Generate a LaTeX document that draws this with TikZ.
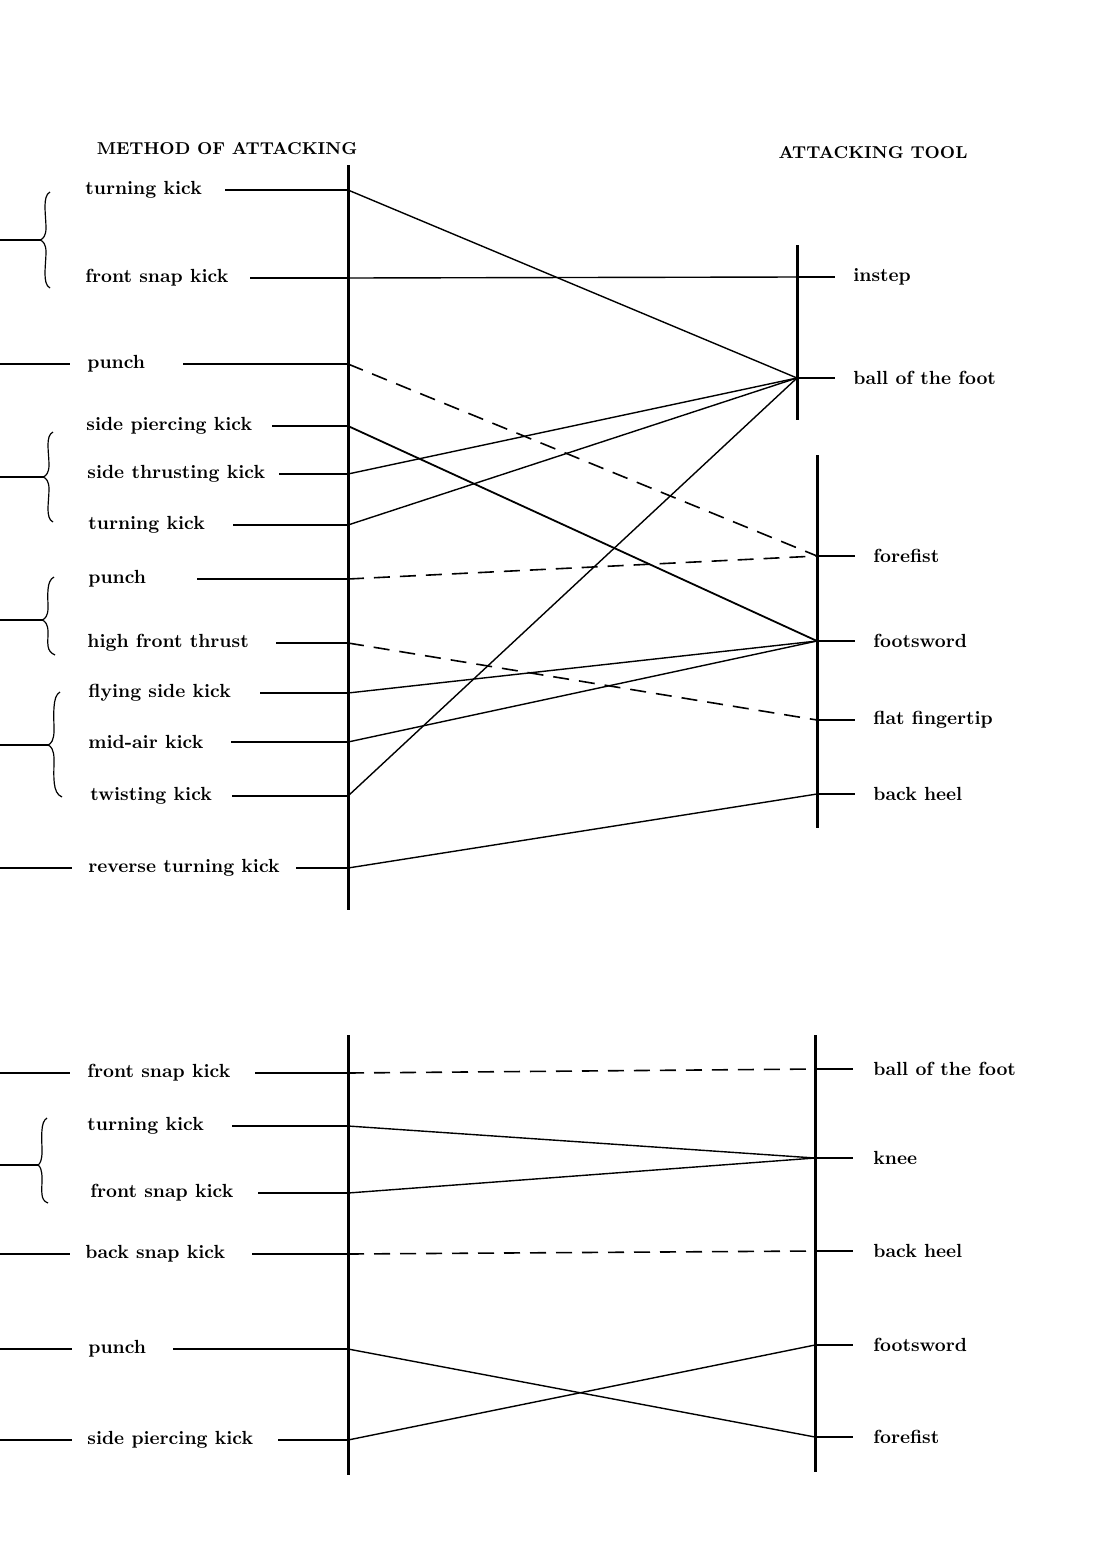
\documentclass[tikz,border=0pt]{standalone}
\begin{document}
\begin{tikzpicture}[x=0.5pt,y=-0.5pt,
  axis/.style={line width=1.5pt},
  conn/.style={line width=0.7pt},
  dconn/.style={line width=0.8pt,dash pattern=on 8pt off 5pt},
  stub/.style={line width=0.7pt},
  lab/.style={anchor=west,inner sep=0pt,font=\fontsize{9.5}{11}\selectfont\bfseries},
  head/.style={inner sep=0pt,font=\fontsize{8.6}{10}\selectfont\bfseries},
  brace/.style={line width=0.6pt}]
\useasboundingbox (0,0) rectangle (1119,1548);

% headers
\node[head] (hm) at (227,149) {METHOD OF ATTACKING};
\node[head] (ht) at (873,153) {ATTACKING TOOL};

% axes
\coordinate (A1t) at (348,165); \coordinate (A1b) at (348,910);
\coordinate (B1t) at (797,245); \coordinate (B1b) at (797,420);
\coordinate (B2t) at (817,455); \coordinate (B2b) at (817,828);
\coordinate (A2t) at (348,1035); \coordinate (A2b) at (348,1475);
\coordinate (B3t) at (815,1035); \coordinate (B3b) at (815,1472);
\draw[axis] (A1t) -- (A1b);
\draw[axis] (B1t) -- (B1b);
\draw[axis] (B2t) -- (B2b);
\draw[axis] (A2t) -- (A2b);
\draw[axis] (B3t) -- (B3b);

% ---------- upper left labels ----------
\node[lab] (u1) at (85,190) {turning kick};
\node[lab] (u2) at (85,278) {front snap kick};
\node[lab] (u3) at (87,364) {punch};
\node[lab] (u4) at (86,426) {side piercing kick};
\node[lab] (u5) at (87,474) {side thrusting kick};
\node[lab] (u6) at (88,525) {turning kick};
\node[lab] (u7) at (88,579) {punch};
\node[lab] (u8) at (87,643) {high front thrust};
\node[lab] (u9) at (88,693) {flying side kick};
\node[lab] (u10) at (88,742) {mid-air kick};
\node[lab] (u11) at (90,796) {twisting kick};
\node[lab] (u12) at (88,868) {reverse turning kick};

\coordinate (p1) at (348,190);  \coordinate (s1) at (225,190);
\coordinate (p2) at (348,278);  \coordinate (s2) at (250,278);
\coordinate (p3) at (348,364);  \coordinate (s3) at (183,364);
\coordinate (p4) at (348,426);  \coordinate (s4) at (272,426);
\coordinate (p5) at (348,474);  \coordinate (s5) at (279,474);
\coordinate (p6) at (348,525);  \coordinate (s6) at (233,525);
\coordinate (p7) at (348,579);  \coordinate (s7) at (197,579);
\coordinate (p8) at (348,643);  \coordinate (s8) at (276,643);
\coordinate (p9) at (348,693);  \coordinate (s9) at (260,693);
\coordinate (p10) at (348,742); \coordinate (s10) at (231,742);
\coordinate (p11) at (348,796); \coordinate (s11) at (232,796);
\coordinate (p12) at (348,868); \coordinate (s12) at (296,868);
\foreach \i in {1,...,12} {\draw[stub] (s\i) -- (p\i);}

% left feeders and braces (upper)
\coordinate (f3a) at (0,364);  \coordinate (f3b) at (70,364);
\coordinate (f12a) at (0,868); \coordinate (f12b) at (72,868);
\draw[stub] (f3a) -- (f3b);
\draw[stub] (f12a) -- (f12b);

\coordinate (br1) at (40,240); \coordinate (br1f) at (0,240);
\draw[brace] (br1f) -- (br1);
\draw[brace] (50,192) .. controls (42,196) and (46,215) .. (46,228) .. controls (46,236) and (43,239) .. (br1) .. controls (43,241) and (46,244) .. (46,252) .. controls (46,265) and (42,284) .. (50,288);

\coordinate (br2) at (43,477); \coordinate (br2f) at (0,477);
\draw[brace] (br2f) -- (br2);
\draw[brace] (53,432) .. controls (45,436) and (49,452) .. (49,465) .. controls (49,473) and (46,476) .. (br2) .. controls (46,478) and (49,481) .. (49,489) .. controls (49,502) and (45,518) .. (53,522);

\coordinate (br3) at (42,620); \coordinate (br3f) at (0,620);
\draw[brace] (br3f) -- (br3);
\draw[brace] (54,577) .. controls (46,581) and (48,596) .. (48,608) .. controls (48,616) and (45,619) .. (br3) .. controls (45,621) and (48,624) .. (48,632) .. controls (48,644) and (46,651) .. (55,655);

\coordinate (br4) at (48,745); \coordinate (br4f) at (0,745);
\draw[brace] (br4f) -- (br4);
\draw[brace] (60,692) .. controls (52,696) and (54,716) .. (54,731) .. controls (54,740) and (51,744) .. (br4) .. controls (51,746) and (54,750) .. (54,759) .. controls (54,776) and (52,793) .. (62,797);

% ---------- upper right ----------
\node[lab] (r1) at (853,277) {instep};
\node[lab] (r2) at (853,378) {ball of the foot};
\node[lab] (r3) at (873,556) {forefist};
\node[lab] (r4) at (873,641) {footsword};
\node[lab] (r5) at (873,720) {flat fingertip};
\node[lab] (r6) at (873,794) {back heel};

\coordinate (q1) at (797,277); \coordinate (t1) at (835,277);
\coordinate (q2) at (797,378); \coordinate (t2) at (835,378);
\coordinate (q3) at (817,556); \coordinate (t3) at (855,556);
\coordinate (q4) at (817,641); \coordinate (t4) at (855,641);
\coordinate (q5) at (817,720); \coordinate (t5) at (855,720);
\coordinate (q6) at (817,794); \coordinate (t6) at (855,794);
\foreach \i in {1,...,6} {\draw[stub] (q\i) -- (t\i);}

% upper connectors
\draw[conn] (p1) -- (q2);
\draw[conn] (p2) -- (q1);
\draw[dconn] (p3) -- (q3);
\draw[conn,line width=0.9pt] (p4) -- (q4);
\draw[conn] (p5) -- (q2);
\draw[conn] (p6) -- (q2);
\draw[dconn] (p7) -- (q3);
\draw[dconn] (p8) -- (q5);
\draw[conn] (p9) -- (q4);
\draw[conn] (p10) -- (q4);
\draw[conn] (p11) -- (q2);
\draw[conn] (p12) -- (q6);

% ---------- lower left ----------
\node[lab] (v1) at (87,1073) {front snap kick};
\node[lab] (v2) at (87,1126) {turning kick};
\node[lab] (v3) at (90,1193) {front snap kick};
\node[lab] (v4) at (85,1254) {back snap kick};
\node[lab] (v5) at (88,1349) {punch};
\node[lab] (v6) at (87,1440) {side piercing kick};

\coordinate (m1) at (348,1073); \coordinate (n1) at (255,1073);
\coordinate (m2) at (348,1126); \coordinate (n2) at (232,1126);
\coordinate (m3) at (348,1193); \coordinate (n3) at (258,1193);
\coordinate (m4) at (348,1254); \coordinate (n4) at (252,1254);
\coordinate (m5) at (348,1349); \coordinate (n5) at (173,1349);
\coordinate (m6) at (348,1440); \coordinate (n6) at (278,1440);
\foreach \i in {1,...,6} {\draw[stub] (n\i) -- (m\i);}

\coordinate (g1a) at (0,1073); \coordinate (g1b) at (70,1073);
\coordinate (g4a) at (0,1254); \coordinate (g4b) at (70,1254);
\coordinate (g5a) at (0,1349); \coordinate (g5b) at (72,1349);
\coordinate (g6a) at (0,1440); \coordinate (g6b) at (72,1440);
\draw[stub] (g1a) -- (g1b);
\draw[stub] (g4a) -- (g4b);
\draw[stub] (g5a) -- (g5b);
\draw[stub] (g6a) -- (g6b);

\coordinate (br5) at (38,1165); \coordinate (br5f) at (0,1165);
\draw[brace] (br5f) -- (br5);
\draw[brace] (47,1118) .. controls (40,1122) and (42,1138) .. (42,1152) .. controls (42,1160) and (40,1164) .. (br5) .. controls (40,1166) and (42,1170) .. (42,1178) .. controls (42,1192) and (40,1200) .. (48,1203);

% ---------- lower right ----------
\node[lab] (w1) at (873,1069) {ball of the foot};
\node[lab] (w2) at (873,1158) {knee};
\node[lab] (w3) at (873,1251) {back heel};
\node[lab] (w4) at (873,1345) {footsword};
\node[lab] (w5) at (873,1437) {forefist};

\coordinate (k1) at (815,1069); \coordinate (h1) at (853,1069);
\coordinate (k2) at (815,1158); \coordinate (h2) at (853,1158);
\coordinate (k3) at (815,1251); \coordinate (h3) at (853,1251);
\coordinate (k4) at (815,1345); \coordinate (h4) at (853,1345);
\coordinate (k5) at (815,1437); \coordinate (h5) at (853,1437);
\foreach \i in {1,...,5} {\draw[stub] (k\i) -- (h\i);}

% lower connectors
\draw[dconn] (m1) -- (k1);
\draw[conn] (m2) -- (k2);
\draw[conn] (m3) -- (k2);
\draw[dconn] (m4) -- (k3);
\draw[conn] (m5) -- (k5);
\draw[conn] (m6) -- (k4);
\end{tikzpicture}
\end{document}
